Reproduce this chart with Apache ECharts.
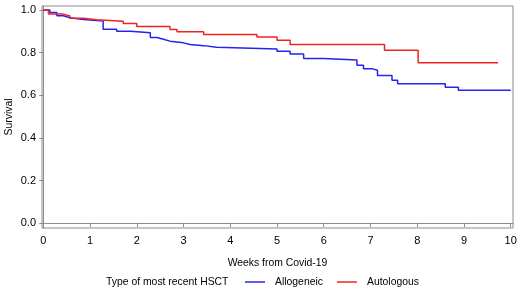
<!DOCTYPE html>
<html>
<head>
<meta charset="utf-8">
<script src="https://cdn.jsdelivr.net/npm/echarts@6/dist/echarts.min.js"></script>
<style>
  html, body { margin: 0; padding: 0; background: #fff; }
  #chart { width: 520px; height: 291px; }
</style>
</head>
<body>
<div id="chart"></div>
<script>
// Kaplan-Meier steps (weeks, survival)
var alloWeeks = [0, 0.14, 0.29, 0.43, 0.57, 0.86, 1.28, 1.57, 1.86, 2.29, 2.43, 2.57, 2.71, 3.0, 3.14, 3.43, 3.71, 5.0, 5.28, 5.57, 6.0, 6.71, 6.85, 7.03, 7.15, 7.46, 7.58, 8.6, 8.88, 10.0];
var alloSurv  = [1.0, 0.989, 0.973, 0.964, 0.956, 0.948, 0.910, 0.900, 0.893, 0.871, 0.863, 0.854, 0.846, 0.838, 0.833, 0.825, 0.817, 0.807, 0.794, 0.772, 0.766, 0.741, 0.725, 0.717, 0.693, 0.670, 0.654, 0.638, 0.623, 0.623];

var autoWeeks = [0, 0.11, 0.43, 0.57, 0.86, 1.14, 1.71, 2.0, 2.71, 2.86, 3.43, 4.57, 5.0, 5.28, 7.3, 8.02, 9.73];
var autoSurv  = [1.0, 0.981, 0.972, 0.961, 0.954, 0.948, 0.937, 0.923, 0.909, 0.898, 0.885, 0.874, 0.858, 0.838, 0.811, 0.753, 0.753];

var xTicks = [0, 1, 2, 3, 4, 5, 6, 7, 8, 9, 10];
var yTicks = [0, 0.2, 0.4, 0.6, 0.8, 1.0];

function pairs(xs, ys) {
  return xs.map(function (x, i) { return [x, ys[i]]; });
}

var myChart = echarts.init(document.getElementById("chart"));
var font = "'Liberation Sans', Arial, sans-serif";
var grey = "#8c8c8c";
var fs = 10.4;

var option = {
  animation: false,
  textStyle: { fontFamily: font },
  grid: {
    left: 42,
    top: 6,
    right: 7,
    bottom: 63,
    outerBoundsMode: "none",
    show: true,
    borderColor: grey,
    borderWidth: 1
  },
  xAxis: {
    type: "value",
    min: -0.028,
    max: 10.049,
    name: "Weeks from Covid-19",
    nameLocation: "middle",
    nameGap: 30,
    nameTextStyle: { color: "#000", fontSize: fs, fontFamily: font },
    axisLine: { show: true, lineStyle: { color: grey } },
    axisTick: { show: true, length: 4, customValues: xTicks, lineStyle: { color: grey } },
    axisLabel: { customValues: xTicks, color: "#000", fontSize: 11, fontFamily: font, margin: 7 },
    splitLine: { show: false }
  },
  yAxis: {
    type: "value",
    min: -0.023,
    max: 1.019,
    name: "Survival",
    nameLocation: "middle",
    nameGap: 28,
    nameMoveOverlap: false,
    nameTextStyle: { color: "#000", fontSize: fs, fontFamily: font },
    axisLine: { show: true, lineStyle: { color: grey } },
    axisTick: { show: true, length: 4, customValues: yTicks, lineStyle: { color: grey } },
    axisLabel: {
      customValues: yTicks,
      color: "#000",
      fontSize: 11,
      fontFamily: font,
      margin: 6,
      formatter: function (v) { return v.toFixed(1); }
    },
    splitLine: { show: false }
  },
  legend: {
    left: 245,
    top: 277,
    padding: 0,
    icon: "rect",
    itemWidth: 20,
    itemHeight: 1.5,
    itemGap: 14,
    textStyle: { color: "#000", fontSize: fs, fontFamily: font, padding: [0, 0, 0, 5] },
    data: ["Allogeneic", "Autologous"]
  },
  graphic: [
    {
      type: "text",
      left: 106,
      top: 277,
      style: { text: "Type of most recent HSCT", fill: "#000", fontSize: fs, fontFamily: font }
    }
  ],
  series: [
    {
      name: "Allogeneic",
      type: "line",
      step: "end",
      showSymbol: false,
      data: pairs(alloWeeks, alloSurv),
      lineStyle: { color: "#2424ee", width: 1.5 },
      itemStyle: { color: "#2424ee" }
    },
    {
      name: "Autologous",
      type: "line",
      step: "end",
      showSymbol: false,
      data: pairs(autoWeeks, autoSurv),
      lineStyle: { color: "#ee2424", width: 1.5 },
      itemStyle: { color: "#ee2424" }
    }
  ]
};
myChart.setOption(option);
</script>
</body>
</html>
